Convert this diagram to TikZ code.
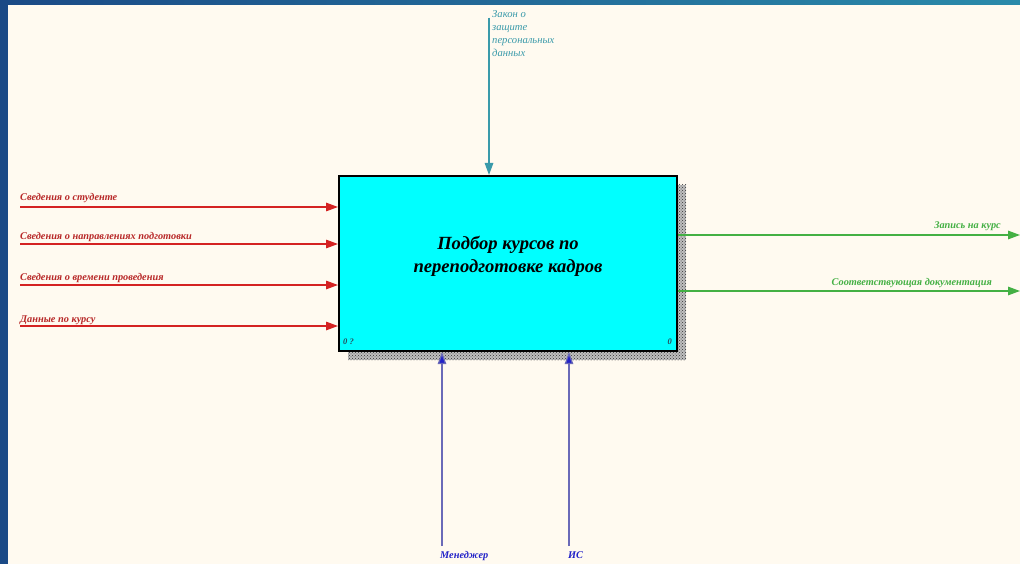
\documentclass[tikz,border=0pt]{standalone}
\usepackage{fontspec}
\setmainfont{Liberation Serif}
\usetikzlibrary{arrows.meta,patterns}
\definecolor{cream}{HTML}{FFFAF0}
\definecolor{frameblue}{HTML}{1B4A86}
\definecolor{frameteal}{HTML}{2A8AAA}
\definecolor{inred}{HTML}{D42222}
\definecolor{intext}{HTML}{B82828}
\definecolor{ctrl}{HTML}{3A9AAA}
\definecolor{outgreen}{HTML}{44B044}
\definecolor{mechline}{HTML}{6A6AB8}
\definecolor{mechblue}{HTML}{2222C8}
\definecolor{boxcyan}{HTML}{00FFFF}
\definecolor{idtext}{HTML}{2A4A5A}
\begin{document}
\begin{tikzpicture}[x=1pt,y=-1pt,
  lbl/.style={font=\fontsize{10.3}{12}\selectfont\bfseries\itshape, inner sep=0pt},
  arr/.style={line width=1.3pt, -{Triangle[length=12pt,width=8.5pt]}},
  inarr/.style={arr, draw=inred, fill=inred},
  ctrlarr/.style={arr, draw=ctrl, fill=ctrl},
  outarr/.style={arr, draw=outgreen, fill=outgreen},
  mecharr/.style={arr, line width=1.2pt, draw=mechline, -{Triangle[length=12pt,width=8.5pt,fill=mechblue]}},
  actbox/.style={draw=black, fill=boxcyan, line width=2pt, inner sep=0pt,
     minimum width=338pt, minimum height=175pt}]
\useasboundingbox (0,0) rectangle (1020,564);
% background frame
\fill[frameblue] (0,0) rectangle (1020,564);
\shade[left color=frameblue, right color=frameteal] (0,0) rectangle (1020,5);
\fill[cream] (8,5) rectangle (1020,564);
% shadow
\fill[black!25] (348,185) rectangle (686,360);
\fill[pattern=crosshatch dots, pattern color=black!80] (348,185) rectangle (686,360);
% activity box
\node[actbox, anchor=north west] (box) at (338,175) {};
\node[font=\fontsize{18.6}{23}\selectfont\bfseries\itshape, align=center] (title) at (508,256)
  {Подбор курсов по\\переподготовке кадров};
\node[lbl, text=idtext, font=\fontsize{8.5}{9}\selectfont\bfseries\itshape, anchor=base west] (nodeid) at (343,344) {0 ?};
\node[lbl, text=idtext, font=\fontsize{8.5}{9}\selectfont\bfseries\itshape, anchor=base east] (nodenum) at (672,344) {0};
% inputs
\coordinate (i1) at (20,207);
\coordinate (i2) at (20,244);
\coordinate (i3) at (20,285);
\coordinate (i4) at (20,326);
\draw[inarr] (i1) -- (i1 -| box.west);
\draw[inarr] (i2) -- (i2 -| box.west);
\draw[inarr] (i3) -- (i3 -| box.west);
\draw[inarr] (i4) -- (i4 -| box.west);
\node[lbl, text=intext, anchor=base west] (li1) at (20,201) {Сведения о студенте};
\node[lbl, text=intext, anchor=base west] (li2) at (20,240) {Сведения о направлениях подготовки};
\node[lbl, text=intext, anchor=base west] (li3) at (20,280) {Сведения о времени проведения};
\node[lbl, text=intext, anchor=base west] (li4) at (20,322) {Данные по курсу};
% control
\coordinate (c1) at (489,18);
\draw[ctrlarr] (c1) -- (c1 |- box.north);
\node[lbl, text=ctrl, font=\fontsize{10.6}{12.8}\selectfont\itshape, align=left, anchor=north west] (lc1) at (492,10.5)
  {Закон о\\защите\\персональных\\данных};
% outputs
\coordinate (o1) at (1020,235);
\coordinate (o2) at (1020,291);
\draw[outarr] (o1 -| box.east) -- (o1);
\draw[outarr] (o2 -| box.east) -- (o2);
\node[lbl, text=outgreen, anchor=base east] (lo1) at (1001,229) {Запись на курс};
\node[lbl, text=outgreen, anchor=base east] (lo2) at (992,285) {Соответствующая документация};
% mechanisms
\coordinate (m1) at (442,546);
\coordinate (m2) at (569,546);
\draw[mecharr] (m1) -- (m1 |- box.south);
\draw[mecharr] (m2) -- (m2 |- box.south);
\node[lbl, text=mechblue, anchor=base west] (lm1) at (440,558) {Менеджер};
\node[lbl, text=mechblue, anchor=base west] (lm2) at (568,558) {ИС};
\end{tikzpicture}
\end{document}
